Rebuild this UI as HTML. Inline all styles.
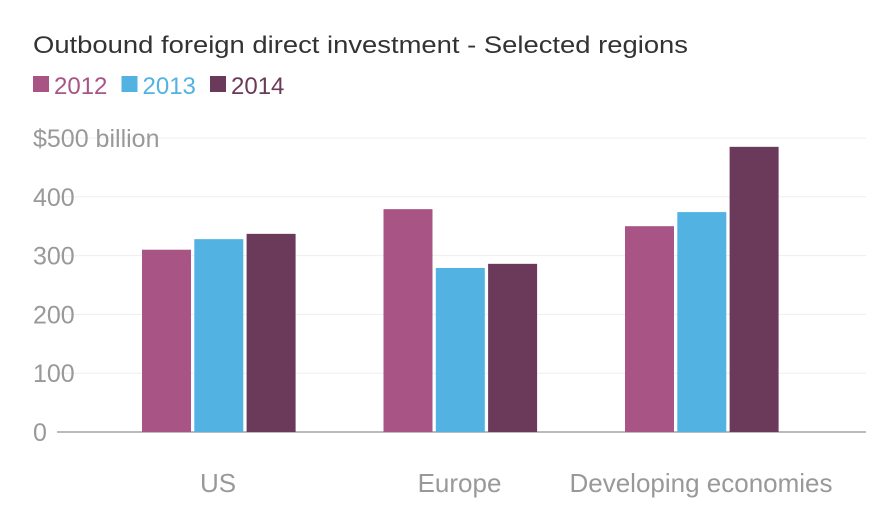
<!DOCTYPE html>
<html><head><meta charset="utf-8"><style>
body{margin:0;background:#fff;width:884px;height:511px;overflow:hidden;font-family:"Liberation Sans",sans-serif}
</style></head><body>
<svg width="884" height="511" id="c">
<text x="33" y="53" font-size="24" fill="#333" textLength="655" lengthAdjust="spacingAndGlyphs">Outbound foreign direct investment - Selected regions</text>
<g id="legend"></g>
<g id="grid"></g><g id="bars"></g><g id="xl"></g>
</svg>
<script>
const categories=["US","Europe","Developing economies"];
const years=["2012","2013","2014"];
const v2012=[310,379,350];
const v2013=[328,279,374];
const v2014=[337,286,485];
const ticks=[0,100,200,300,400,500];
const tickLabels=["0","100","200","300","400","$500 billion"];
const colors=["#a85585","#52b3e3","#6b3a5a"];
const series=[v2012,v2013,v2014];
const NS="http://www.w3.org/2000/svg";
const y=v=>432-v*0.588;
const gx=i=>218+i*241.5;
function mk(t,a,p,txt){const e=document.createElementNS(NS,t);for(const k in a)e.setAttribute(k,a[k]);if(txt!==undefined)e.textContent=txt;document.getElementById(p).appendChild(e);return e;}
ticks.forEach((t,i)=>{
 const l=mk('line',{x1:57,x2:866,y1:y(t),y2:y(t),stroke:i==0?'#bbb':'#eee','stroke-width':i==0?2:1},'grid');
 
 
 const tx=mk('text',{x:33,y:y(t)+9,'font-size':25,fill:'#999'},'grid',tickLabels[i]);
 
 
});
categories.forEach((c,i)=>{
 series.forEach((s,j)=>{
  const x=gx(i)-76+j*52.3;
  const r=mk('rect',{x:x,y:y(s[i]),width:49,height:432-y(s[i]),fill:colors[j]},'bars');
  
  
 });
 const t=mk('text',{x:gx(i),y:492,'font-size':26,fill:'#999','text-anchor':'middle'},'xl',c);
 
 
});
years.forEach((yr,j)=>{
 const x=33+j*88.5;
 const r=mk('rect',{x:x,y:76,width:16,height:16,fill:colors[j]},'legend');
 
 
 const t=mk('text',{x:x+21,y:94,'font-size':24,fill:colors[j]},'legend',yr);
 
 
});
</script>
</body></html>
